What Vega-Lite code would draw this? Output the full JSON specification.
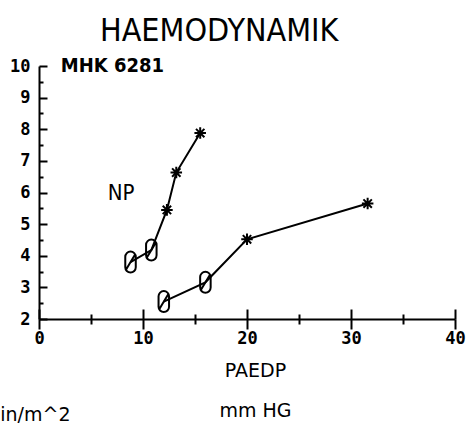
{
  "$schema": "https://vega.github.io/schema/vega-lite/v6.json",
  "width": 416,
  "height": 253,
  "autosize": "none",
  "padding": {"left": 39, "top": 66, "right": 15, "bottom": 105},
  "background": "white",
  "config": {
    "view": {"stroke": null},
    "axis": {"domainColor": "black", "tickColor": "black", "labelColor": "black", "titleColor": "black", "grid": false, "domainWidth": 2, "tickWidth": 2}
  },
  "title": {
    "text": "HAEMODYNAMIK",
    "anchor": "start",
    "frame": "group",
    "dx": 61,
    "dy": -4,
    "fontSize": 32,
    "font": "DejaVu Sans Condensed",
    "fontWeight": "normal",
    "color": "black"
  },
  "data": {
    "values": [
      {"series": "NP", "paedp": 8.8, "ci": 3.8, "marker": "O"},
      {"series": "NP", "paedp": 10.8, "ci": 4.18, "marker": "O"},
      {"series": "NP", "paedp": 12.3, "ci": 5.45, "marker": "*"},
      {"series": "NP", "paedp": 13.2, "ci": 6.63, "marker": "*"},
      {"series": "NP", "paedp": 15.5, "ci": 7.88, "marker": "*"},
      {"series": "B", "paedp": 12.0, "ci": 2.55, "marker": "O"},
      {"series": "B", "paedp": 16.0, "ci": 3.16, "marker": "O"},
      {"series": "B", "paedp": 20.0, "ci": 4.52, "marker": "*"},
      {"series": "B", "paedp": 31.6, "ci": 5.65, "marker": "*"}
    ]
  },
  "layer": [
    {
      "mark": {"type": "line", "color": "black", "strokeWidth": 2},
      "encoding": {
        "x": {
          "field": "paedp", "type": "quantitative",
          "scale": {"domain": [0, 40], "nice": false, "zero": false},
          "axis": {
            "orient": "bottom",
            "values": [0, 5, 10, 15, 20, 25, 30, 35, 40],
            "tickSize": {"condition": {"test": "datum.value % 10 === 0", "value": 10}, "value": 5},
            "labelExpr": "datum.value % 10 === 0 ? datum.label : ''",
            "labelPadding": 1,
            "labelFlush": false,
            "labelOverlap": false,
            "labelFont": "DejaVu Sans Mono",
            "labelFontWeight": "bold",
            "labelFontSize": 17,
            "title": ["PAEDP", "mm HG"],
            "titleX": 216,
            "titleY": 42,
            "titleAlign": "center",
            "titleBaseline": "top",
            "titleLineHeight": 40,
            "titleFont": "DejaVu Sans",
            "titleFontSize": 19,
            "titleFontWeight": "normal"
          }
        },
        "y": {
          "field": "ci", "type": "quantitative",
          "scale": {"domain": [2, 10], "nice": false, "zero": false},
          "axis": {
            "orient": "left",
            "values": [2, 3, 4, 5, 6, 7, 8, 9, 10],
            "tickSize": -8,
            "labelPadding": 17,
            "labelFlush": false,
            "labelOverlap": false,
            "labelFont": "DejaVu Sans Mono",
            "labelFontWeight": "bold",
            "labelFontSize": 17,
            "title": "l/min/m^2",
            "titleAngle": 0,
            "titleX": 31,
            "titleY": 348,
            "titleAlign": "right",
            "titleBaseline": "middle",
            "titleFont": "DejaVu Sans",
            "titleFontSize": 19,
            "titleFontWeight": "normal"
          }
        },
        "detail": {"field": "series"}
      }
    },
    {
      "mark": {"type": "point", "filled": false, "stroke": "black", "strokeWidth": 2, "size": 441, "opacity": 1},
      "encoding": {
        "x": {
          "field": "paedp", "type": "quantitative",
          "axis": {
            "orient": "bottom",
            "values": [0, 5, 10, 15, 20, 25, 30, 35, 40],
            "tickSize": {"condition": {"test": "datum.value % 10 === 0", "value": -10}, "value": -5},
            "labels": false,
            "domain": false,
            "title": null
          }
        },
        "y": {
          "field": "ci", "type": "quantitative",
          "axis": {
            "orient": "left",
            "values": [2.5, 3.5, 4.5, 5.5, 6.5, 7.5, 8.5, 9.5],
            "tickSize": -4,
            "labels": false,
            "domain": false,
            "title": null
          }
        },
        "shape": {
          "field": "marker", "type": "nominal",
          "scale": {
            "domain": ["O", "*"],
            "range": [
              "M-0.5,-0.5A0.5,0.5 0 0 1 0.5,-0.5L0.5,0.5A0.5,0.5 0 0 1 -0.5,0.5ZM0.45,-0.75L-0.45,0.75",
              "M-0.55,0L0.55,0M0,-0.55L0,0.55M-0.4,-0.4L0.4,0.4M-0.4,0.4L0.4,-0.4"
            ]
          },
          "legend": null
        }
      }
    },
    {
      "data": {"values": [{"paedp": 2.1, "ci": 10.0, "label": "MHK 6281"}]},
      "mark": {"type": "text", "align": "left", "baseline": "middle", "font": "DejaVu Sans Condensed", "fontWeight": "bold", "fontSize": 20, "color": "black"},
      "encoding": {
        "x": {"field": "paedp", "type": "quantitative", "axis": null},
        "y": {"field": "ci", "type": "quantitative", "axis": null},
        "text": {"field": "label"}
      }
    },
    {
      "data": {"values": [{"paedp": 7.9, "ci": 6.0, "label": "NP"}]},
      "mark": {"type": "text", "align": "center", "baseline": "middle", "font": "DejaVu Sans Condensed", "fontWeight": "normal", "fontSize": 22, "color": "black"},
      "encoding": {
        "x": {"field": "paedp", "type": "quantitative", "axis": null},
        "y": {"field": "ci", "type": "quantitative", "axis": null},
        "text": {"field": "label"}
      }
    }
  ],
  "resolve": {"axis": {"x": "independent", "y": "independent"}}
}
